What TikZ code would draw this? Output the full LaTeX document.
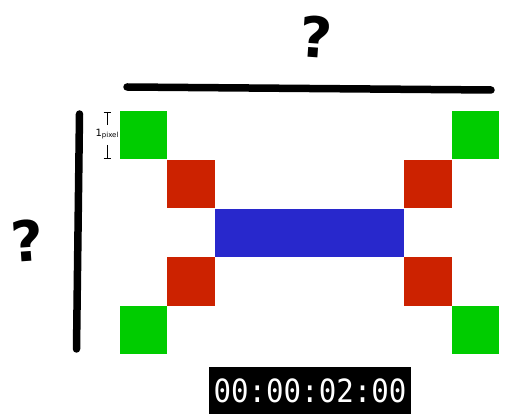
\documentclass[tikz,border=0pt]{standalone}
\usepackage{fontspec}
\usetikzlibrary{calc}
\newfontfamily\qfont{DejaVu Sans}
\newfontfamily\tcfont{DejaVu Sans Mono}
\newfontfamily\lblfont{DejaVu Sans}
\definecolor{gr}{RGB}{0,204,0}
\definecolor{rd}{RGB}{204,34,0}
\definecolor{bl}{RGB}{40,40,204}
\begin{document}
\begin{tikzpicture}[x=1pt,y=-1pt,
  thick line/.style={line width=7.5pt,line cap=round},
  qmark/.style={font=\qfont\bfseries\fontsize{56}{56}\selectfont,inner sep=0pt},
  tick/.style={line width=0.9pt}]
\useasboundingbox (0,0) rectangle (506,419);
% squares
\fill[gr] (120,111) rectangle (167,159);
\fill[gr] (452,111) rectangle (499,159);
\fill[gr] (120,306) rectangle (167,354);
\fill[gr] (452,306) rectangle (499,354);
\fill[rd] (167,160) rectangle (215,208);
\fill[rd] (404,160) rectangle (452,208);
\fill[rd] (167,257) rectangle (215,306);
\fill[rd] (404,257) rectangle (452,306);
\fill[bl] (215,209) rectangle (404,257);
% lines
\coordinate (ta) at (127,87);
\coordinate (tb) at (491,90);
\coordinate (la) at (79.5,114);
\coordinate (lb) at (76.5,349);
\draw[thick line] (ta) -- (tb);
\draw[thick line] (la) -- (lb);
% question marks
\node[qmark,rotate=-4] (q1) at (316,37) {?};
\node[qmark,rotate=4] (q2) at (27,241) {?};
% pixel marker
\coordinate (m1) at (107,112);
\coordinate (m2) at (107,125);
\coordinate (m3) at (107,145);
\coordinate (m4) at (107,158);
\draw[tick] (m1) -- (m2);
\draw[tick] ($(m1)+(-3.5,0)$) -- ($(m1)+(3.5,0)$);
\draw[tick] (m3) -- (m4);
\draw[tick] ($(m4)+(-3.5,0)$) -- ($(m4)+(3.5,0)$);
\node[font=\lblfont\fontsize{10}{10}\selectfont,inner sep=0pt] (lbl) at (107,134) {1\raisebox{-1.2pt}{\fontsize{7}{7}\selectfont pixel}};
% timecode
\fill[black] (209,367) rectangle (411,414);
\node[font=\tcfont\fontsize{32}{32}\selectfont,text=white,inner sep=0pt] (tc) at (310,391) {\scalebox{0.91}[1]{00:00:02:00}};
\end{tikzpicture}
\end{document}
